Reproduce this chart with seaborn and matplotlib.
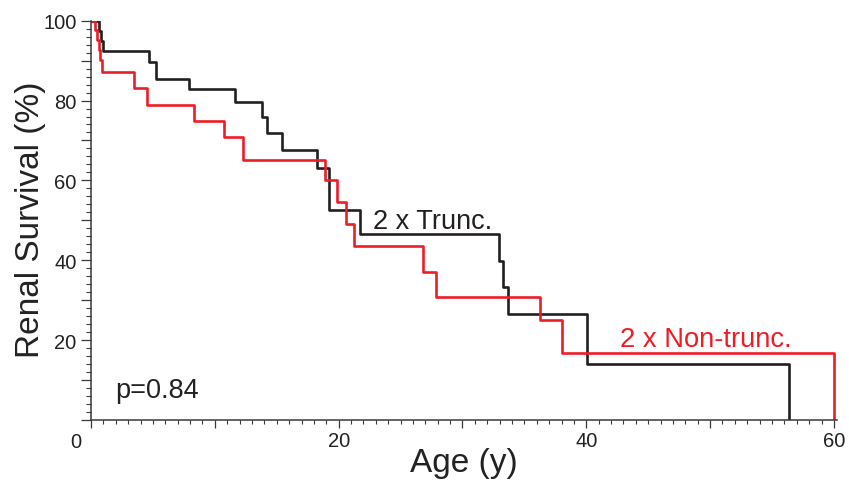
import matplotlib
matplotlib.use("Agg")
import matplotlib.pyplot as plt
import seaborn as sns
import pandas as pd
from matplotlib.ticker import MultipleLocator, FuncFormatter

# Kaplan-Meier style step data (value after each step)
trunc_age = [0, 0.67, 0.81, 0.95, 4.71, 5.25, 7.94, 11.63, 13.79, 14.24, 15.4, 18.25, 19.2,
             21.7, 32.95, 33.3, 33.65, 40.05, 56.4]
trunc_surv = [100, 97.4, 95.0, 92.5, 89.6, 85.5, 83.0, 79.6, 75.9, 71.9, 67.7, 63.0, 52.6,
              46.7, 39.9, 33.3, 26.6, 13.9, 0]

nontrunc_age = [0, 0.33, 0.5, 0.62, 0.75, 0.89, 3.47, 4.55, 8.35, 10.74, 12.3, 18.9, 19.85,
                20.6, 21.24, 26.8, 27.9, 36.3, 38.0, 60.0]
nontrunc_surv = [100, 97.6, 95.1, 92.6, 90.1, 87.1, 83.1, 78.9, 74.9, 70.9, 65.0, 60.0, 54.6,
                 49.1, 43.6, 37.0, 30.7, 25.0, 16.8, 0]

series_names = ["2 x Trunc.", "2 x Non-trunc."]
x_ticklabels = ["20", "40", "60"]
y_ticklabels = ["20", "40", "60", "80", "100"]

df = pd.concat([
    pd.DataFrame({"Age": trunc_age, "Survival": trunc_surv, "Group": series_names[0]}),
    pd.DataFrame({"Age": nontrunc_age, "Survival": nontrunc_surv, "Group": series_names[1]}),
], ignore_index=True)

sns.set_style("ticks")
plt.rcParams["font.family"] = ["Liberation Sans", "DejaVu Sans"]

BLACK = "#231f20"
RED = "#ee1c25"
AXC = "#3a3a3a"

fig = plt.figure(figsize=(8.49, 4.85), dpi=100)
ax = fig.add_axes([0.1072, 0.1320, 0.8787, 0.8233])

sns.lineplot(data=df, x="Age", y="Survival", hue="Group",
             palette={series_names[0]: BLACK, series_names[1]: RED},
             estimator=None, sort=False, drawstyle="steps-post",
             linewidth=1.9, legend=False, ax=ax)

ax.set_xlim(0, 60.25)
ax.set_ylim(0, 100)

sns.despine(ax=ax)
for s in ["left", "bottom"]:
    ax.spines[s].set_color(AXC)
    ax.spines[s].set_linewidth(1.1)

ax.xaxis.set_major_locator(MultipleLocator(10))
ax.xaxis.set_minor_locator(MultipleLocator(1))
ax.yaxis.set_major_locator(MultipleLocator(10))
ax.yaxis.set_minor_locator(MultipleLocator(2))

xl = {float(v): v for v in x_ticklabels}
yl = {float(v): v for v in y_ticklabels}
ax.xaxis.set_major_formatter(FuncFormatter(lambda v, p: xl.get(round(v, 6), "")))
ax.yaxis.set_major_formatter(FuncFormatter(lambda v, p: yl.get(round(v, 6), "")))

ax.tick_params(axis="x", which="major", length=5.5, width=0.9, color=AXC,
               labelsize=14.5, pad=2.5, labelcolor="#222222")
ax.tick_params(axis="x", which="minor", length=3, width=0.8, color=AXC)
ax.tick_params(axis="y", which="major", length=7, width=0.9, color=AXC,
               labelsize=14.5, pad=3.5, labelcolor="#222222")
ax.tick_params(axis="y", which="minor", length=3.3, width=0.8, color=AXC)

# shared origin label
ax.annotate("0", xy=(0, 0), xycoords="data", xytext=(-11, -8.5),
            textcoords="offset points", ha="center", va="top",
            fontsize=14.5, color="#222222")

ax.set_xlabel("Age (y)", fontsize=24, color="#222222")
ax.set_ylabel("Renal Survival (%)", fontsize=24, color="#222222")
ax.xaxis.set_label_coords(0.50, -0.068)
ax.yaxis.set_label_coords(-0.060, 0.503)

ax.text(22.78, 48.0, series_names[0], fontsize=19.5, color=BLACK, ha="left", va="baseline")
ax.text(42.7, 18.6, series_names[1], fontsize=19.7, color=RED, ha="left", va="baseline")
ax.text(1.94, 5.7, "p=0.84", fontsize=19.5, color="#222222", ha="left", va="baseline")

fig.savefig("out.png", dpi=100)
